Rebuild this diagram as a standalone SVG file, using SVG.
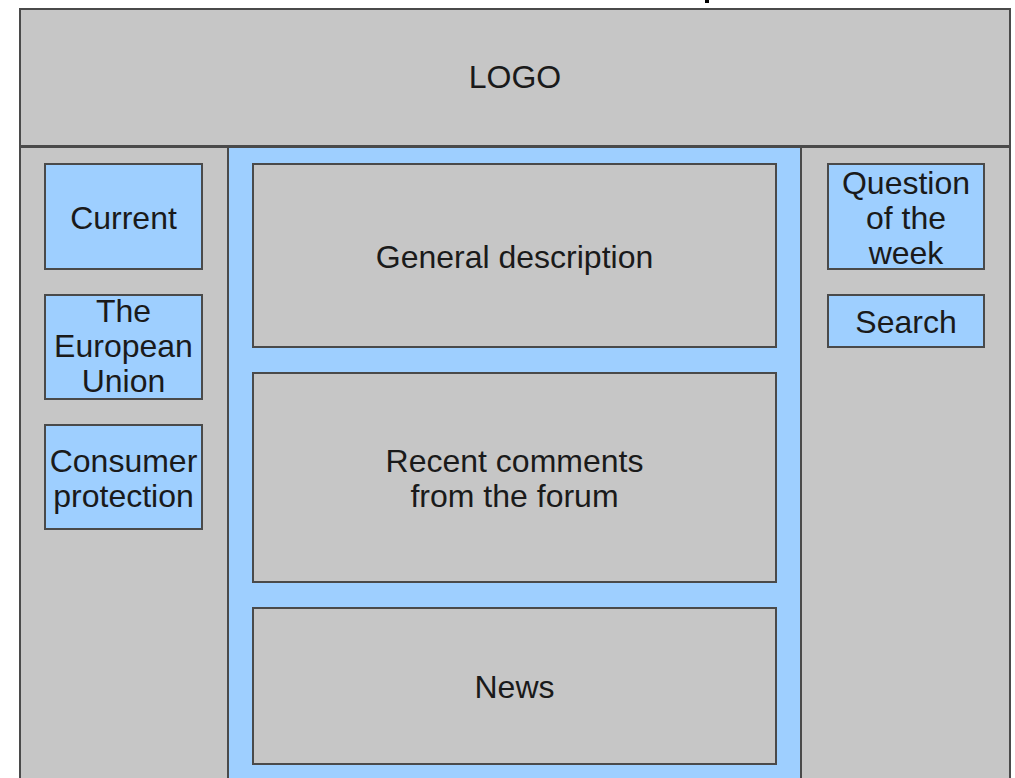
<svg xmlns="http://www.w3.org/2000/svg" width="1015" height="778" viewBox="0 0 1015 778">
<style>
.g{fill:#c6c6c6;stroke:#4a4a4a;stroke-width:2}
.b{fill:#9ecfff;stroke:#4a4a4a;stroke-width:2}
.t{font-family:"Liberation Sans",Arial,sans-serif;font-size:32px;fill:#1a1a1a;text-anchor:middle}
</style>
<rect x="0" y="0" width="1015" height="778" fill="#ffffff"/>
<rect x="705" y="0" width="4" height="3" fill="#000000"/>
<g id="header"><rect class="g" x="20" y="9" width="990" height="137"/><text class="t" x="515" y="88">LOGO</text></g>
<g id="left-column"><rect class="g" x="20" y="147" width="208" height="632"/></g>
<g id="center-column"><rect class="b" x="228" y="147" width="573" height="632"/></g>
<g id="right-column"><rect class="g" x="801" y="147" width="209" height="632"/></g>
<g id="current"><rect class="b" x="45" y="164" width="157" height="105"/><text class="t" x="123.5" y="229">Current</text></g>
<g id="eu"><rect class="b" x="45" y="295" width="157" height="104"/><text class="t" x="123.5" y="322">The</text><text class="t" x="123.5" y="357">European</text><text class="t" x="123.5" y="392">Union</text></g>
<g id="consumer"><rect class="b" x="45" y="425" width="157" height="104"/><text class="t" x="123.5" y="472">Consumer</text><text class="t" x="123.5" y="507">protection</text></g>
<g id="general"><rect class="g" x="253" y="164" width="523" height="183"/><text class="t" x="514.5" y="268">General description</text></g>
<g id="comments"><rect class="g" x="253" y="373" width="523" height="209"/><text class="t" x="514.5" y="472">Recent comments</text><text class="t" x="514.5" y="507">from the forum</text></g>
<g id="news"><rect class="g" x="253" y="608" width="523" height="156"/><text class="t" x="514.5" y="698">News</text></g>
<g id="question"><rect class="b" x="828" y="164" width="156" height="105"/><text class="t" x="906" y="194">Question</text><text class="t" x="906" y="229">of the</text><text class="t" x="906" y="264">week</text></g>
<g id="search"><rect class="b" x="828" y="295" width="156" height="52"/><text class="t" x="906" y="333">Search</text></g>
<g id="connectors"></g>
</svg>
